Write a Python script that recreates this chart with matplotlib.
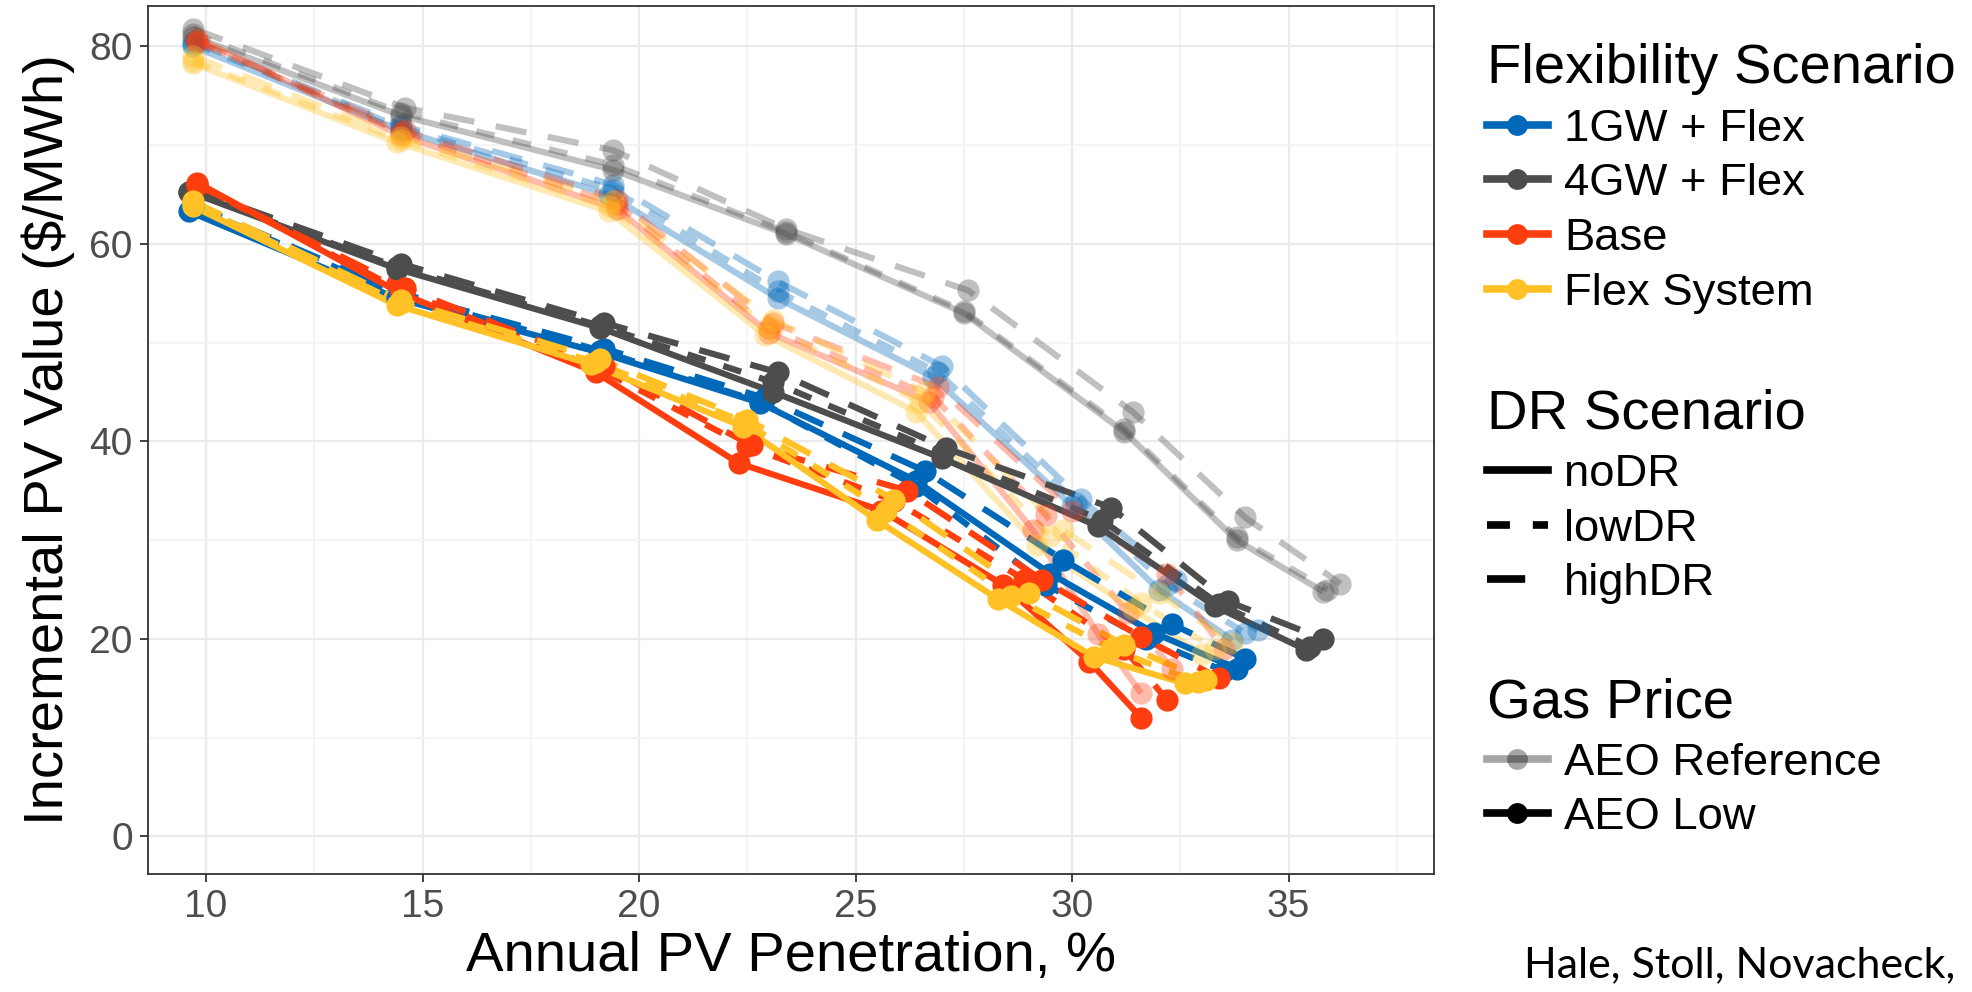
import matplotlib
matplotlib.use("Agg")
import matplotlib.pyplot as plt
from matplotlib.lines import Line2D
from matplotlib.ticker import MultipleLocator

# ---------------- data ----------------
DR_LEVELS = ["noDR", "lowDR", "highDR"]
FLEX_LEVELS = ["1GW + Flex", "4GW + Flex", "Base", "Flex System"]
GAS_LEVELS = ["AEO Reference", "AEO Low"]

# AEO Low gas price  (each: [noDR, lowDR, highDR])
PV_LOW_1GW = [[9.6, 14.4, 19.1, 22.8, 26.4, 29.5, 31.9, 33.8],
              [9.7, 14.5, 19.1, 22.8, 26.4, 29.4, 31.7, 33.5],
              [9.7, 14.5, 19.2, 22.9, 26.6, 29.8, 32.3, 34.0]]
VAL_LOW_1GW = [[63.3, 54.5, 49.0, 43.9, 36.0, 26.6, 20.6, 17.0],
               [63.8, 54.8, 49.2, 44.0, 35.5, 25.5, 20.0, 16.8],
               [64.0, 55.0, 49.4, 44.4, 37.0, 28.0, 21.5, 18.0]]

PV_LOW_4GW = [[9.6, 14.4, 19.1, 23.1, 27.0, 30.6, 33.3, 35.4],
              [9.6, 14.4, 19.1, 23.1, 27.0, 30.7, 33.4, 35.5],
              [9.7, 14.5, 19.2, 23.2, 27.1, 30.9, 33.6, 35.8]]
VAL_LOW_4GW = [[65.3, 57.5, 51.5, 45.0, 38.3, 31.4, 23.3, 18.9],
               [65.3, 57.7, 51.7, 46.0, 38.8, 32.0, 23.5, 19.2],
               [65.5, 58.0, 52.0, 47.0, 39.3, 33.3, 23.8, 20.0]]

PV_LOW_BASE = [[9.8, 14.5, 19.0, 22.3, 25.6, 28.4, 30.4, 31.6],
               [9.8, 14.5, 19.1, 22.5, 25.9, 28.9, 31.2, 32.2],
               [9.8, 14.6, 19.2, 22.6, 26.2, 29.3, 31.6, 33.4]]
VAL_LOW_BASE = [[66.2, 55.0, 47.0, 37.8, 33.0, 25.5, 17.7, 12.0],
                [66.0, 55.3, 47.3, 39.5, 34.0, 26.0, 19.0, 13.8],
                [66.0, 55.5, 47.6, 39.6, 35.0, 26.0, 20.2, 16.0]]

PV_LOW_FLEX = [[9.7, 14.4, 18.9, 22.4, 25.5, 28.3, 30.5, 32.6],
               [9.7, 14.5, 19.0, 22.4, 25.7, 28.6, 30.9, 32.9],
               [9.7, 14.5, 19.1, 22.5, 25.9, 29.0, 31.2, 33.1]]
VAL_LOW_FLEX = [[63.8, 53.8, 47.8, 41.5, 32.0, 24.0, 18.2, 15.5],
                [64.0, 54.0, 48.0, 42.0, 33.0, 24.3, 19.0, 15.6],
                [64.3, 54.3, 48.3, 42.2, 34.1, 24.6, 19.4, 15.8]]

# AEO Reference gas price
PV_REF_1GW = [[9.7, 14.5, 19.3, 23.2, 26.8, 30.0, 32.0, 33.7],
              [9.7, 14.5, 19.4, 23.2, 26.9, 30.1, 32.2, 34.0],
              [9.7, 14.5, 19.4, 23.2, 27.0, 30.2, 32.4, 34.3]]
VAL_REF_1GW = [[80.0, 71.5, 65.0, 54.5, 46.5, 33.5, 25.0, 19.9],
               [80.3, 71.8, 65.5, 55.2, 47.0, 33.8, 25.5, 20.6],
               [80.5, 72.0, 66.0, 56.2, 47.6, 34.2, 26.0, 20.9]]

PV_REF_4GW = [[9.7, 14.5, 19.4, 23.4, 27.5, 31.2, 33.8, 35.8],
              [9.7, 14.5, 19.4, 23.4, 27.5, 31.2, 33.8, 35.9],
              [9.7, 14.6, 19.4, 23.4, 27.6, 31.4, 34.0, 36.2]]
VAL_REF_4GW = [[81.0, 73.0, 67.5, 61.0, 53.0, 41.0, 30.0, 24.8],
               [81.3, 73.3, 68.0, 61.2, 53.2, 41.3, 30.3, 25.0],
               [81.8, 73.8, 69.5, 61.5, 55.3, 43.0, 32.3, 25.6]]

PV_REF_BASE = [[9.8, 14.5, 19.5, 23.0, 26.7, 29.1, 30.6, 31.6],
               [9.8, 14.5, 19.5, 23.0, 26.8, 29.4, 31.3, 32.3],
               [9.8, 14.6, 19.5, 23.1, 26.9, 30.0, 32.2, 33.5]]
VAL_REF_BASE = [[80.8, 71.0, 63.5, 51.0, 44.0, 31.0, 20.5, 14.5],
                [80.5, 71.3, 64.0, 51.5, 44.5, 32.5, 22.6, 17.0],
                [80.5, 71.5, 64.5, 52.0, 45.5, 33.0, 26.6, 19.0]]

PV_REF_FLEX = [[9.7, 14.4, 19.3, 22.9, 26.4, 29.2, 31.4, 33.0],
               [9.7, 14.5, 19.3, 23.0, 26.5, 29.5, 31.6, 33.3],
               [9.7, 14.5, 19.4, 23.1, 26.6, 29.8, 32.0, 33.7]]
VAL_REF_FLEX = [[78.3, 70.3, 63.3, 50.8, 43.0, 29.5, 23.0, 18.5],
                [78.5, 70.5, 63.8, 51.6, 44.0, 30.4, 23.6, 19.0],
                [79.0, 70.8, 64.3, 52.3, 45.0, 31.0, 24.6, 19.6]]

CITATION = "Hale, Stoll, Novacheck,"

# ---------------- styling ----------------
FLEX_COLORS = {"1GW + Flex": "#0068B8", "4GW + Flex": "#4D4D4D",
               "Base": "#FF3E0F", "Flex System": "#FFC125"}
GAS_ALPHA = {"AEO Reference": 0.35, "AEO Low": 1.0}
DR_DASH = {"noDR": "-", "lowDR": (0, (3.0, 3.0)), "highDR": (0, (5.0, 3.5))}

series = {
    ("AEO Reference", "1GW + Flex"): (PV_REF_1GW, VAL_REF_1GW),
    ("AEO Reference", "4GW + Flex"): (PV_REF_4GW, VAL_REF_4GW),
    ("AEO Reference", "Base"): (PV_REF_BASE, VAL_REF_BASE),
    ("AEO Reference", "Flex System"): (PV_REF_FLEX, VAL_REF_FLEX),
    ("AEO Low", "1GW + Flex"): (PV_LOW_1GW, VAL_LOW_1GW),
    ("AEO Low", "4GW + Flex"): (PV_LOW_4GW, VAL_LOW_4GW),
    ("AEO Low", "Base"): (PV_LOW_BASE, VAL_LOW_BASE),
    ("AEO Low", "Flex System"): (PV_LOW_FLEX, VAL_LOW_FLEX),
}

FONT = ["Liberation Sans", "DejaVu Sans"]
plt.rcParams["font.family"] = FONT

W, H = 1972, 992
fig = plt.figure(figsize=(W / 100, H / 100), dpi=100)
ax = fig.add_axes([148 / W, 1 - 874 / H, (1434 - 148) / W, (874 - 6) / H])

LW = 4.5
MS = 16

# lines layer
for gas in GAS_LEVELS:
    for flex in FLEX_LEVELS:
        xs, ys = series[(gas, flex)]
        for i, dr in enumerate(DR_LEVELS):
            ax.plot(xs[i], ys[i], color=FLEX_COLORS[flex], alpha=GAS_ALPHA[gas],
                    lw=LW, linestyle=DR_DASH[dr], zorder=2,
                    solid_joinstyle="round", solid_capstyle="butt")
# points layer
for gas in GAS_LEVELS:
    for flex in FLEX_LEVELS:
        xs, ys = series[(gas, flex)]
        for i, dr in enumerate(DR_LEVELS):
            ax.plot(xs[i], ys[i], linestyle="none", marker="o", ms=MS,
                    mec="none", mfc=FLEX_COLORS[flex], alpha=GAS_ALPHA[gas],
                    zorder=3)

ax.set_xlim(8.66, 38.36)
ax.set_ylim(-3.81, 84.1)
ax.xaxis.set_major_locator(MultipleLocator(5))
ax.xaxis.set_minor_locator(MultipleLocator(2.5))
ax.yaxis.set_major_locator(MultipleLocator(20))
ax.yaxis.set_minor_locator(MultipleLocator(10))
ax.grid(which="major", color="#EBEBEB", lw=1.6, zorder=0)
ax.grid(which="minor", color="#F3F3F3", lw=1.2, zorder=0)
ax.set_axisbelow(True)
for s in ax.spines.values():
    s.set_color("#333333")
    s.set_linewidth(1.3)
ax.tick_params(which="major", length=6, width=1.3, color="#333333",
               labelsize=28, labelcolor="#4D4D4D", pad=5)
ax.tick_params(which="minor", length=0)

ax.set_xlabel("Annual PV Penetration, %", fontsize=40.5, labelpad=4)
ax.set_ylabel("Incremental PV Value ($/MWh)", fontsize=40.5, labelpad=10)

# legends
LEG_FS = 32.7
TITLE_FS = 40.5
common = dict(loc="upper left", frameon=False, fontsize=LEG_FS,
              title_fontsize=TITLE_FS, alignment="left", handlelength=1.34,
              handletextpad=0.35, borderpad=0, borderaxespad=0,
              labelspacing=0.3)

h_flex = [Line2D([0], [0], color=FLEX_COLORS[f], lw=5.5, marker="o", ms=15,
                 mec="none") for f in FLEX_LEVELS]
leg1 = fig.legend(h_flex, FLEX_LEVELS, title="Flexibility Scenario",
                  bbox_to_anchor=(1487 / W, 1 - 43 / H), **common)

h_dr = [Line2D([0], [0], color="black", lw=5.5, linestyle=DR_DASH[d])
        for d in DR_LEVELS]
leg2 = fig.legend(h_dr, DR_LEVELS, title="DR Scenario",
                  bbox_to_anchor=(1487 / W, 1 - 388.5 / H), **common)

h_gas = [Line2D([0], [0], color="black", alpha=GAS_ALPHA[g], lw=5.5,
                marker="o", ms=15, mec="none") for g in GAS_LEVELS]
leg3 = fig.legend(h_gas, GAS_LEVELS, title="Gas Price",
                  bbox_to_anchor=(1487 / W, 1 - 677 / H), **common)

fig.text(1524 / W, 1 - 977 / H, CITATION, fontsize=31, family=["Lato", "DejaVu Sans"],
         ha="left", va="baseline", color="black")

fig.savefig("out.png", dpi=100)
